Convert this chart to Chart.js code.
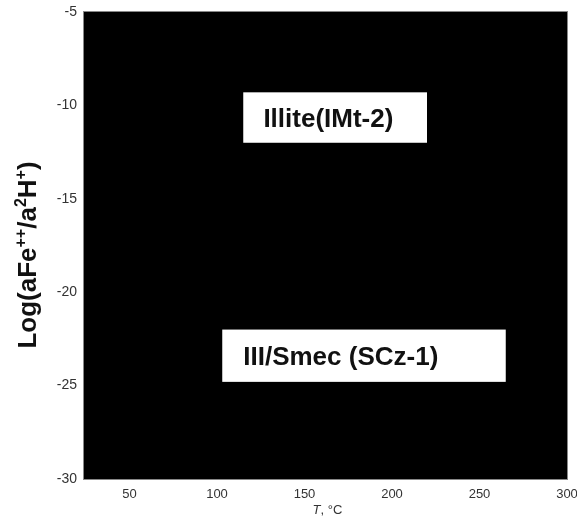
<!DOCTYPE html>
<html>
<head>
<meta charset="utf-8">
<script src="https://cdn.jsdelivr.net/npm/chart.js@4"></script>
<style>
body{margin:0;background:#fff;}
#wrap{width:577px;height:516px;}
</style>
</head>
<body>
<div id="wrap"><canvas id="myChart"></canvas></div>
<script>
const xTicks = [50,100,150,200,250,300];
const yTicks = [-30,-25,-20,-15,-10,-5];
const xRange = [24,300];
const yRange = [-30,-5];

// field labels and their white boxes (data units)
const fieldLabels = ["Illite(IMt-2)", "III/Smec (SCz-1)"];
const boxLeft = [115,103];
const boxRight = [220,265];
const boxBottom = [-12,-24.8];
const boxTop = [-9.3,-22];
const textLeft = [126.5,115];

const ctx = document.getElementById('myChart');

const fieldPlugin = {
  id: 'fields',
  beforeDatasetsDraw(chart){
    const c = chart.ctx;
    const a = chart.chartArea;
    const xs = chart.scales.x, ys = chart.scales.y;
    c.save();
    c.fillStyle = '#000';
    c.fillRect(a.left, a.top, a.right-a.left, a.bottom-a.top);
    c.strokeStyle = '#888';
    c.lineWidth = 1;
    c.strokeRect(a.left-0.5, a.top-0.5, a.right-a.left+1, a.bottom-a.top+1);
    for(let i=0;i<fieldLabels.length;i++){
      const x1 = xs.getPixelForValue(boxLeft[i]);
      const x2 = xs.getPixelForValue(boxRight[i]);
      const y1 = ys.getPixelForValue(boxTop[i]);
      const y2 = ys.getPixelForValue(boxBottom[i]);
      c.fillStyle = '#fff';
      c.fillRect(x1, y1, x2-x1, y2-y1);
      c.fillStyle = '#111';
      c.font = 'bold 26px "Liberation Sans", Arial, sans-serif';
      c.textAlign = 'left';
      c.textBaseline = 'alphabetic';
      c.fillText(fieldLabels[i], xs.getPixelForValue(textLeft[i]), (y1+y2)/2 + 9);
    }
    c.restore();
  },
  afterDraw(chart){
    const c = chart.ctx;
    const a = chart.chartArea;
    c.save();
    // y title with superscripts
    const big = 'bold 26px "Liberation Sans", Arial, sans-serif';
    const small = 'bold 16px "Liberation Sans", Arial, sans-serif';
    const parts = [["Log(aFe",0],["++",1],["/a",0],["2",1],["H",0],["+",1],[")",0]];
    let w = 0;
    parts.forEach(p => { c.font = p[1] ? small : big; w += c.measureText(p[0]).width; });
    c.translate(36, 255);
    c.rotate(-Math.PI/2);
    c.fillStyle = '#111';
    c.textAlign = 'left';
    c.textBaseline = 'alphabetic';
    let x = -w/2;
    parts.forEach(p => {
      c.font = p[1] ? small : big;
      c.fillText(p[0], x, p[1] ? -10 : 0);
      x += c.measureText(p[0]).width;
    });
    c.restore();
    // x title
    c.save();
    c.fillStyle = '#333';
    c.textBaseline = 'alphabetic';
    c.textAlign = 'left';
    const f1 = 'italic 13px "Liberation Sans", Arial, sans-serif';
    const f2 = '13px "Liberation Sans", Arial, sans-serif';
    c.font = f1; const w1 = c.measureText('T').width;
    c.font = f2; const w2 = c.measureText(', \u00B0C').width;
    const cx = (a.left + a.right)/2 + 2;
    let sx = cx - (w1+w2)/2;
    c.font = f1; c.fillText('T', sx, 514);
    c.font = f2; c.fillText(', \u00B0C', sx + w1, 514);
    c.restore();
  }
};

new Chart(ctx, {
  type: 'scatter',
  data: { datasets: [{ data: [] }] },
  options: {
    responsive: true,
    maintainAspectRatio: false,
    animation: false,
    layout: { padding: { left: 0, right: 10, top: 12, bottom: 0 } },
    plugins: { legend: { display: false }, tooltip: { enabled: false } },
    scales: {
      x: {
        type: 'linear',
        min: xRange[0], max: xRange[1],
        grid: { display: false, drawTicks: false },
        border: { display: false },
        afterBuildTicks: s => { s.ticks = xTicks.map(v => ({ value: v })); },
        afterFit: s => { s.height = 37; s.paddingLeft = 0; s.paddingRight = 0; },
        ticks: { color: '#333', padding: 8, maxRotation: 0,
          font: { family: '"Liberation Sans", Arial, sans-serif', size: 13 } }
      },
      y: {
        type: 'linear',
        min: yRange[0], max: yRange[1],
        grid: { display: false, drawTicks: false },
        border: { display: false },
        afterBuildTicks: s => { s.ticks = yTicks.map(v => ({ value: v })); },
        afterFit: s => { s.width = 84; s.paddingTop = 0; s.paddingBottom = 0; },
        ticks: { color: '#333', padding: 7,
          font: { family: '"Liberation Sans", Arial, sans-serif', size: 14 } }
      }
    }
  },
  plugins: [fieldPlugin]
});
</script>
</body>
</html>
